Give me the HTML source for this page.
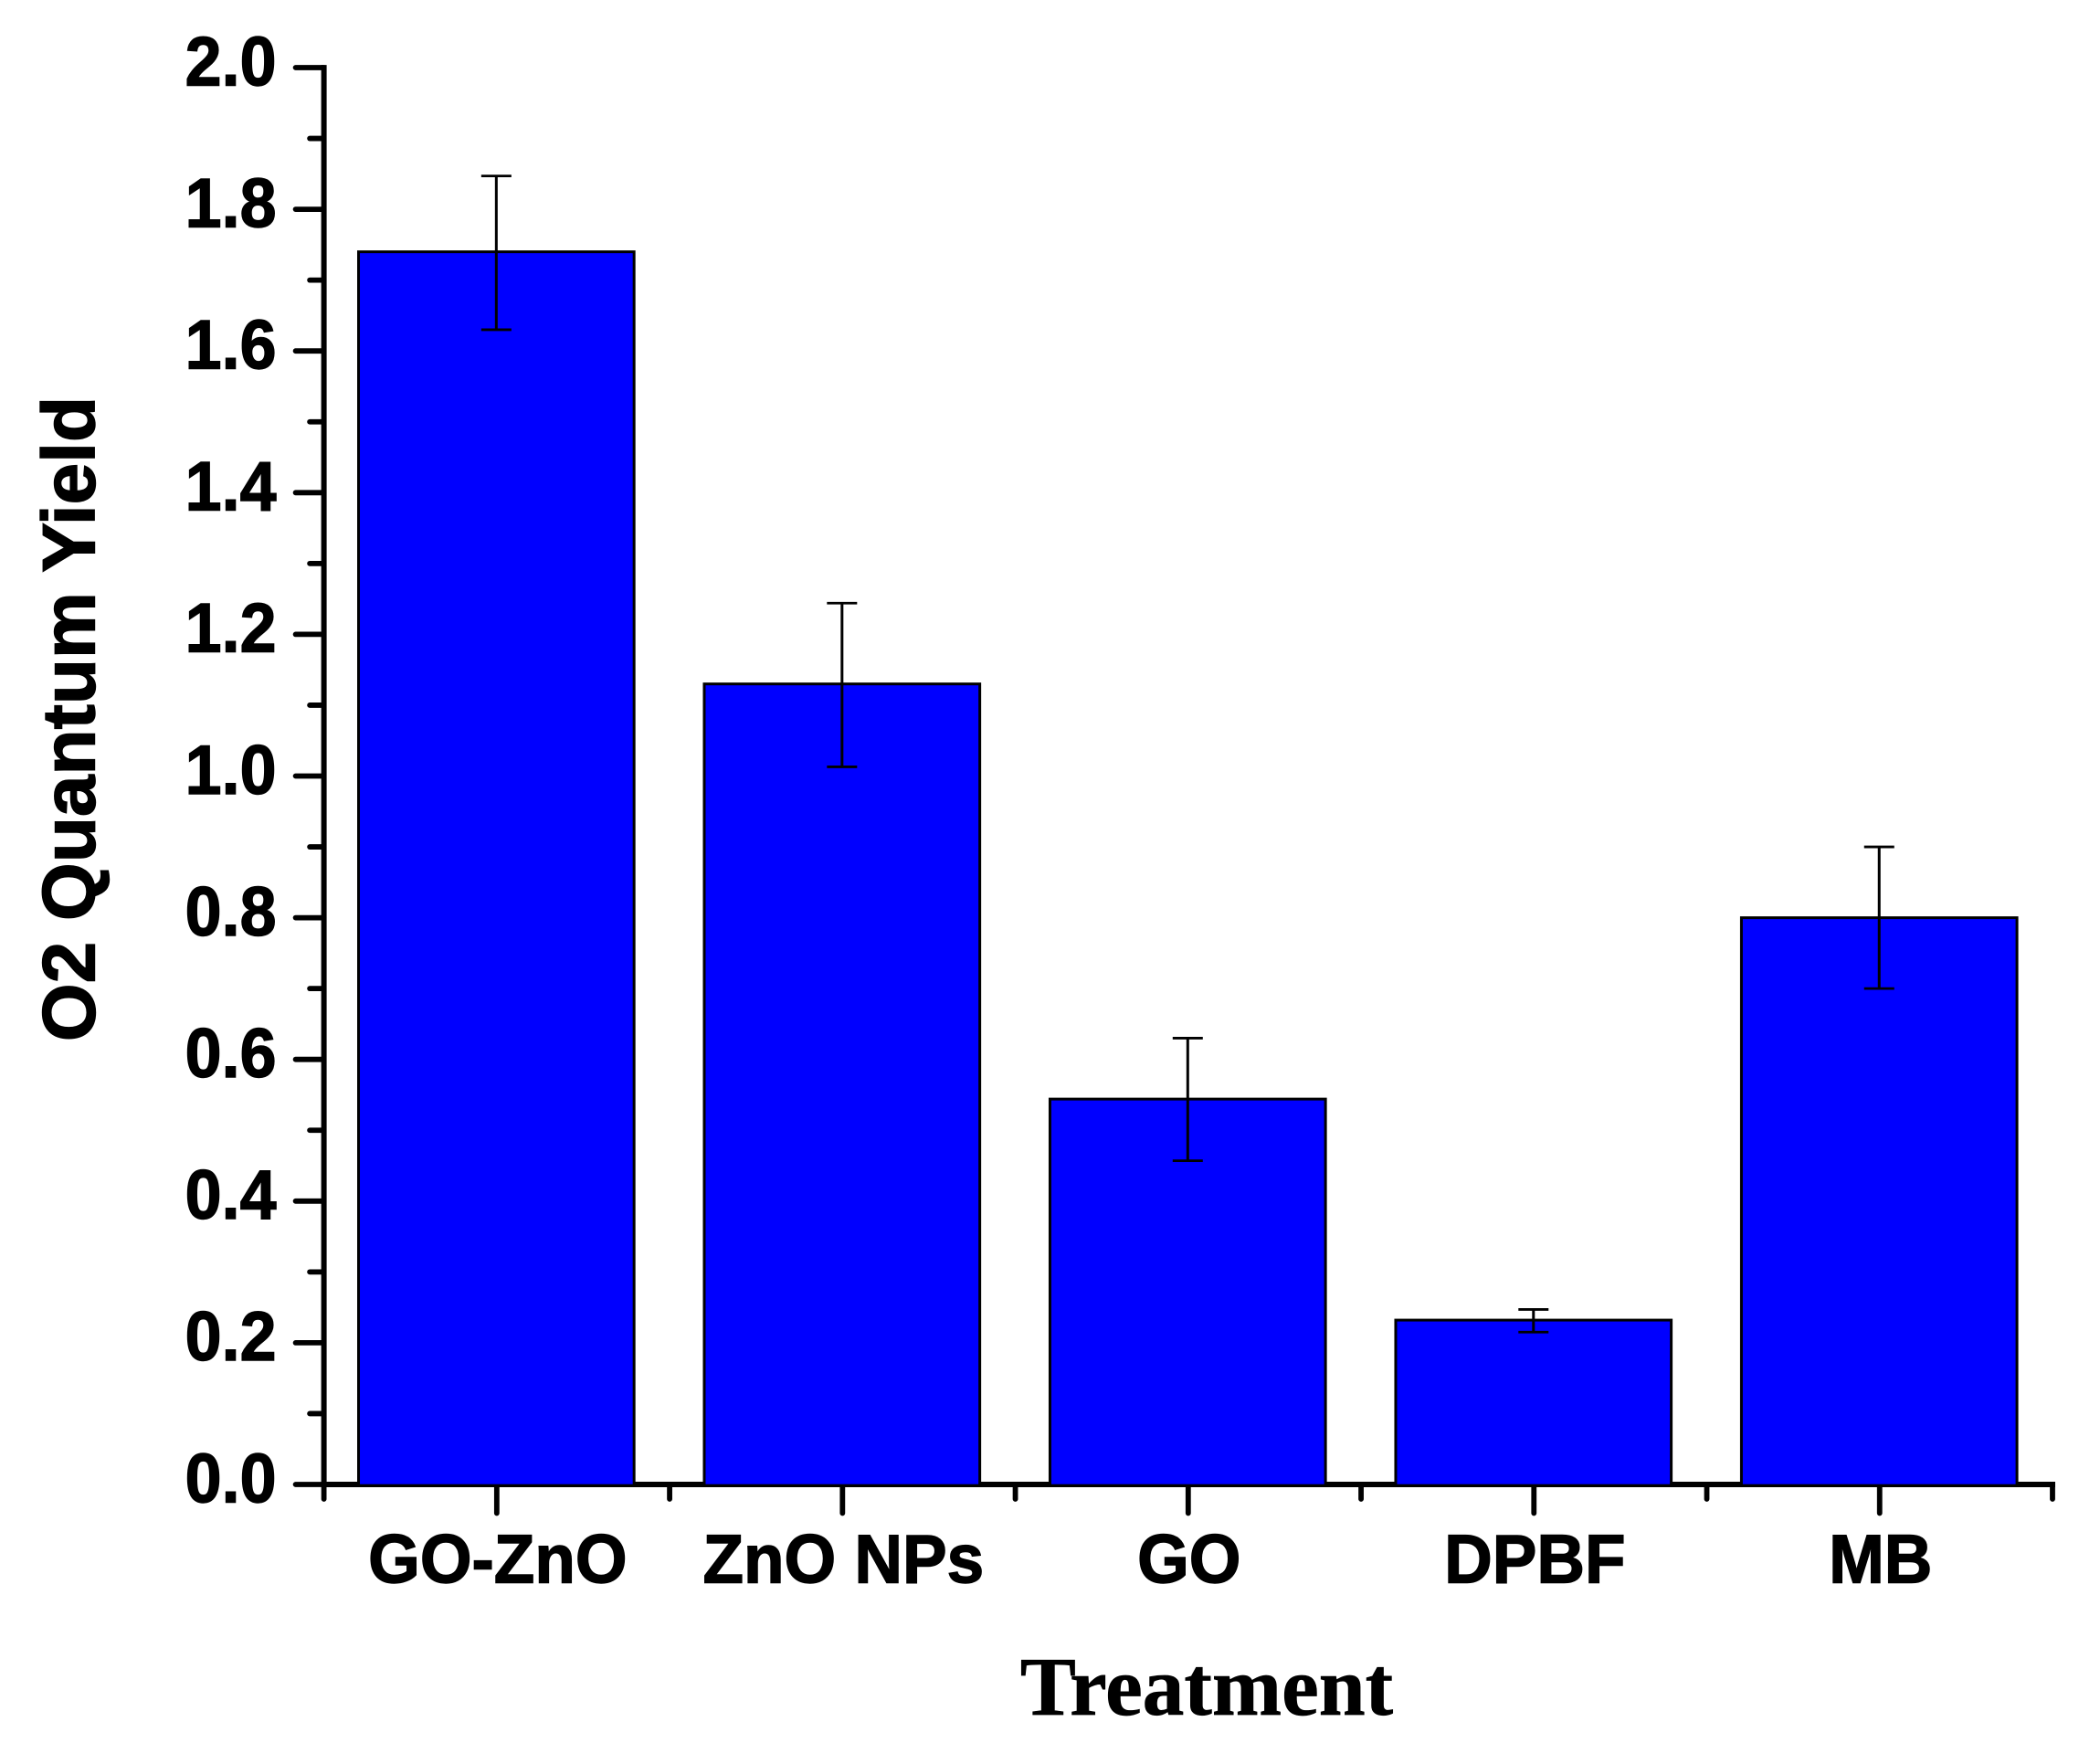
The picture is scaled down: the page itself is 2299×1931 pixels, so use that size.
<!DOCTYPE html>
<html lang="en">
<head>
<meta charset="utf-8">
<title>O2 Quantum Yield by Treatment</title>
<style>
html,body{margin:0;padding:0;background:#fff;}
svg{display:block;}
.sans{font-family:"Liberation Sans",Arial,sans-serif;font-weight:700;fill:#000;stroke:#000;stroke-width:1.4px;}
.serif{font-family:"Liberation Serif","Times New Roman",serif;font-weight:700;fill:#000;stroke:#000;stroke-width:0.7px;}
</style>
</head>
<body>
<svg id="chart" xmlns="http://www.w3.org/2000/svg" width="2299" height="1931" viewBox="0 0 2299 1931">
  <rect x="0" y="0" width="2299" height="1931" fill="#ffffff"/>
  <g id="x-axis-layer"></g>
  <g id="y-axis-layer"></g>
  <g id="bar-layer"></g>
  <g id="error-layer"></g>
  <text class="sans" font-size="82" text-anchor="middle" transform="translate(103.5 787) rotate(-90)">O2 Quantum Yield</text>
  <text class="serif" font-size="91.5" text-anchor="middle" x="1321" y="1877">Treatment</text>
</svg>
<script>
const categories = ['GO-ZnO', 'ZnO NPs', 'GO', 'DPBF', 'MB'];
const values = [1.74, 1.13, 0.544, 0.232, 0.80];
const errorHigh = [1.847, 1.244, 0.63, 0.247, 0.90];
const errorLow = [1.63, 1.013, 0.457, 0.215, 0.70];
const yMajorTicks = ['0.0', '0.2', '0.4', '0.6', '0.8', '1.0', '1.2', '1.4', '1.6', '1.8', '2.0'];
const yMinorTicks = [0.1, 0.3, 0.5, 0.7, 0.9, 1.1, 1.3, 1.5, 1.7, 1.9];

const NS = 'http://www.w3.org/2000/svg';
const plot = { left: 354.6, right: 2247, top: 74, bottom: 1625 };
const yMax = 2;
const barFraction = 0.797;

function xBand() { return (plot.right - plot.left) / categories.length; }
function xCenter(i) { return plot.left + xBand() * (i + 0.5); }
function xEdge(i) { return plot.left + xBand() * i; }
function yScale(v) { return plot.bottom - (v / yMax) * (plot.bottom - plot.top); }

function line(parent, x1, y1, x2, y2, width, cap) {
  const el = document.createElementNS(NS, 'line');
  el.setAttribute('x1', x1);
  el.setAttribute('y1', y1);
  el.setAttribute('x2', x2);
  el.setAttribute('y2', y2);
  el.setAttribute('stroke', '#000');
  el.setAttribute('stroke-width', width);
  el.setAttribute('stroke-linecap', cap);
  parent.appendChild(el);
  return el;
}

const xLayer = document.getElementById('x-axis-layer');
const yLayer = document.getElementById('y-axis-layer');
const barLayer = document.getElementById('bar-layer');
const errLayer = document.getElementById('error-layer');

/* Y axis */
const yLine = line(yLayer, plot.left, plot.top - 2.9, plot.left, plot.bottom, 6, 'butt');



yMajorTicks.forEach(function (label) {
  const v = parseFloat(label);
  const y = yScale(v);
  const t = line(yLayer, plot.left, y, plot.left - 31, y, 5.8, 'round');
  
  
  const txt = document.createElementNS(NS, 'text');
  
  
  txt.setAttribute('class', 'sans');
  txt.setAttribute('font-size', '76');
  txt.setAttribute('text-anchor', 'end');
  txt.setAttribute('transform', 'translate(302.5 ' + (y + 19.3) + ') scale(0.945 1)');
  txt.textContent = label;
  yLayer.appendChild(txt);
});

yMinorTicks.forEach(function (v) {
  const y = yScale(v);
  const t = line(yLayer, plot.left, y, plot.left - 15.5, y, 5.8, 'round');
  
  
});

/* X axis */
const xLine = line(xLayer, plot.left - 3, plot.bottom, plot.right + 3, plot.bottom, 6, 'butt');



for (let i = 0; i <= categories.length; i++) {
  const t = line(xLayer, xEdge(i), plot.bottom, xEdge(i), plot.bottom + 16, 5.8, 'round');
  
  
}

categories.forEach(function (name, i) {
  const t = line(xLayer, xCenter(i), plot.bottom, xCenter(i), plot.bottom + 31.5, 5.8, 'round');
  
  
  const txt = document.createElementNS(NS, 'text');
  
  
  txt.setAttribute('class', 'sans');
  txt.setAttribute('font-size', '75');
  txt.setAttribute('text-anchor', 'middle');
  txt.setAttribute('transform', 'translate(' + (xCenter(i) + 1) + ' 1732.7) scale(0.972 1)');
  txt.textContent = name;
  xLayer.appendChild(txt);
});

/* Bars */
values.forEach(function (v, i) {
  const w = xBand() * barFraction;
  const top = yScale(v);
  const r = document.createElementNS(NS, 'rect');
  
  
  r.setAttribute('x', xCenter(i) - w / 2 - 0.5);
  r.setAttribute('y', top);
  r.setAttribute('width', w);
  r.setAttribute('height', plot.bottom + 1.2 - top);
  r.setAttribute('fill', '#0000ff');
  r.setAttribute('stroke', '#000');
  r.setAttribute('stroke-width', '3');
  barLayer.appendChild(r);
});

/* Error bars */
categories.forEach(function (name, i) {
  const cx = xCenter(i) - 0.5;
  const hi = yScale(errorHigh[i]);
  const lo = yScale(errorLow[i]);
  const stem = line(errLayer, cx, hi, cx, lo, 3, 'butt');
  
  
  const capTop = line(errLayer, cx - 16.5, hi, cx + 16.5, hi, 2.8, 'butt');
  
  
  const capBottom = line(errLayer, cx - 16.5, lo, cx + 16.5, lo, 2.8, 'butt');
  
  
});
</script>
</body>
</html>
